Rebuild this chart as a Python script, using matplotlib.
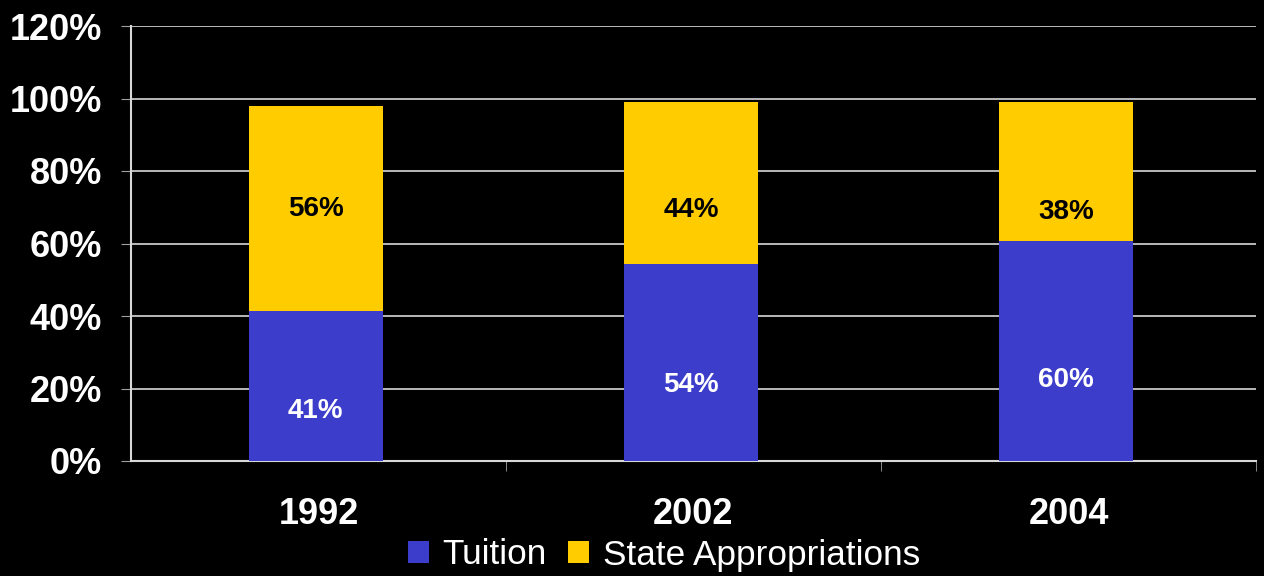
import matplotlib
matplotlib.use("Agg")
import matplotlib.pyplot as plt
import numpy as np

plt.rcParams['font.family'] = ['Liberation Sans', 'DejaVu Sans']

years = ["1992", "2002", "2004"]
tuition = [41.4, 54.4, 60.8]
state = [56.4, 44.5, 38.1]
tuition_labels = ["41%", "54%", "60%"]
state_labels = ["56%", "44%", "38%"]

# where the value labels sit (in % units)
tuition_label_y = [13.8, 21.0, 22.4]
state_label_y = [69.6, 69.3, 68.8]

blue = "#3d3dcc"
yellow = "#ffcc00"

fig = plt.figure(figsize=(12.64, 5.76), dpi=100, facecolor="black")
ax = fig.add_axes([131 / 1264, 1 - 461 / 576, 1125 / 1264, 435 / 576])
ax.set_facecolor("black")

x = np.arange(len(years))
w = 0.357
ax.bar(x - 0.007, tuition, w, color=blue, label="Tuition", zorder=3)
ax.bar(x - 0.007, state, w, bottom=tuition, color=yellow, label="State Appropriations", zorder=3)

for i in range(len(years)):
    ax.text(x[i] - 0.007, tuition_label_y[i], tuition_labels[i], ha="center", va="center",
            color="white", fontsize=20, fontweight="bold", zorder=4)
    ax.text(x[i] - 0.007, state_label_y[i], state_labels[i], ha="center", va="center",
            color="black", fontsize=20, fontweight="bold", zorder=4)

ax.set_xlim(-0.5, 2.5)
ax.set_ylim(0, 120)
ax.set_yticks(np.arange(0, 121, 20))
ax.set_yticklabels([f"{v}%" for v in range(0, 121, 20)], color="white",
                   fontsize=26, fontweight="bold")
ax.set_xticks(x)
ax.set_xticklabels(years, color="white", fontsize=26, fontweight="bold")
ax.set_xticks([0.5, 1.5, 2.5], minor=True)
ax.tick_params(axis="x", which="major", length=0, pad=26)
ax.tick_params(axis="x", which="minor", length=7, color="#a0a0a0", direction="out")
ax.tick_params(axis="y", length=7, color="#a0a0a0", pad=14)

ax.yaxis.grid(True, color="#d8d8d8", linewidth=1.2, zorder=0)
for s in ["top", "right"]:
    ax.spines[s].set_visible(False)
ax.spines["left"].set_color("#d8d8d8")
ax.spines["bottom"].set_color("#d8d8d8")
ax.spines["left"].set_linewidth(1.5)
ax.spines["bottom"].set_linewidth(1.5)

leg = fig.legend(loc="center", bbox_to_anchor=(664 / 1264, 1 - 555 / 576), ncol=2,
                 frameon=False, fontsize=25.3, handlelength=0.6, handleheight=0.6,
                 handletextpad=0.4, columnspacing=0.6, borderpad=0, borderaxespad=0)
for t in leg.get_texts():
    t.set_color("white")

fig.savefig("out.png", dpi=100, facecolor="black")
